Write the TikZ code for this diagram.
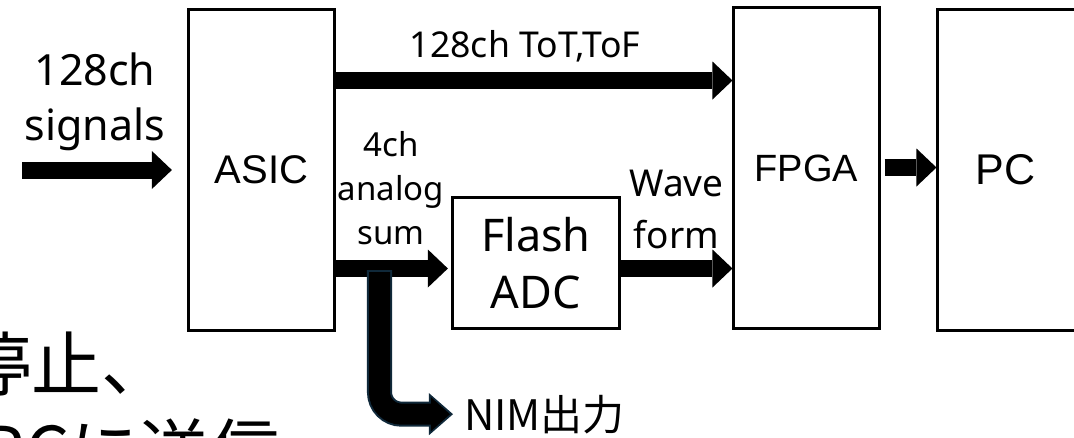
\documentclass[tikz,border=0pt]{standalone}
\usepackage{fontspec}
\setmainfont{Noto Sans}
\newfontfamily\arialfont{Liberation Sans}
\newfontfamily\jpfont{Noto Sans CJK JP}
\usepackage{tikz}
\usetikzlibrary{arrows.meta}
\definecolor{nimedge}{HTML}{10293A}

\tikzset{
  block/.style={draw, line width=0.75mm, inner sep=0pt, align=center},
  bigarrow/.style={line width=4.25mm, -{Triangle[width=9.5mm,length=5mm,line width=0pt]}},
  lbl/.style={inner sep=0pt, outer sep=0pt, align=center},
}

\begin{document}
\begin{tikzpicture}[x=0.025cm, y=-0.025cm]
\useasboundingbox (0,0) rectangle (1074,437);
\clip (0,0) rectangle (1074,437);

% Blocks
\node[block, minimum width=36.25mm, minimum height=80mm, font=\arialfont\fontsize{10mm}{12mm}\selectfont] (asic) at (261.5,170) {ASIC};
\node[block, minimum width=41.5mm, minimum height=32.5mm, font=\fontsize{11.25mm}{14.25mm}\selectfont] (adc) at (536,263) {Flash\\ADC};
\node[block, minimum width=36.25mm, minimum height=80mm, font=\arialfont\fontsize{9.5mm}{12mm}\selectfont] (fpga) at (806.5,168) {FPGA};
\node[block, minimum width=36.75mm, minimum height=80mm, font=\arialfont\fontsize{10.75mm}{12mm}\selectfont] (pc) at (1011.5,170) {PC\hspace*{3mm}};

% Labels
\node[lbl, anchor=north, font=\fontsize{10.75mm}{13.75mm}\selectfont] (sig) at (95,53) {128ch\\signals};
\node[lbl, anchor=base, font=\fontsize{8.9mm}{11mm}\selectfont] (tot) at (525,57) {128ch ToT,ToF};
\node[lbl, anchor=north, font=\fontsize{8.25mm}{11mm}\selectfont] (sum) at (391,131) {4ch\\analog\\sum};
\node[lbl, anchor=north, font=\fontsize{9.25mm}{13mm}\selectfont] (wave) at (676.5,170) {Wave\\form};
\node[lbl, anchor=base west, font=\jpfont\fontsize{10.5mm}{12mm}\selectfont] (nim) at (464,430) {NIM出力};
\node[lbl, anchor=base east, font=\jpfont\fontsize{17.5mm}{21mm}\selectfont] (stop) at (172,390) {停止、};
\node[lbl, anchor=base east, font=\jpfont\fontsize{17.5mm}{21mm}\selectfont] (send) at (280,477) {PCに送信};

% Data flow
\coordinate (sigtail) at (22,170);
\draw[bigarrow, shorten >=3.9mm] (sigtail) -- (asic);
\draw[bigarrow] (asic.east |- 0,80.5) -- (fpga.west |- 0,80.5);
\draw[bigarrow, shorten >=0.9mm] (asic.east |- 0,268.5) -- (adc.west |- 0,268.5);
\draw[bigarrow] (adc.east |- 0,268.5) -- (fpga.west |- 0,268.5);
\draw[bigarrow, shorten <=1mm] (fpga.east |- 0,167.5) -- (pc.west |- 0,167.5);

% NIM branch (outlined)
\coordinate (tap) at (379.5,270);
\draw[nimedge, line width=6.25mm, rounded corners=5.5mm, -{Triangle[width=10.5mm,length=6mm,line width=0pt]}, shorten >=2.75mm] (tap) |- (nim.west);
\draw[black, line width=5.25mm, rounded corners=5.5mm, -{Triangle[width=8.5mm,length=4.75mm,line width=0pt]}, shorten >=3.5mm] ([yshift=-0.5mm]tap) |- (nim.west);
\end{tikzpicture}
\end{document}
